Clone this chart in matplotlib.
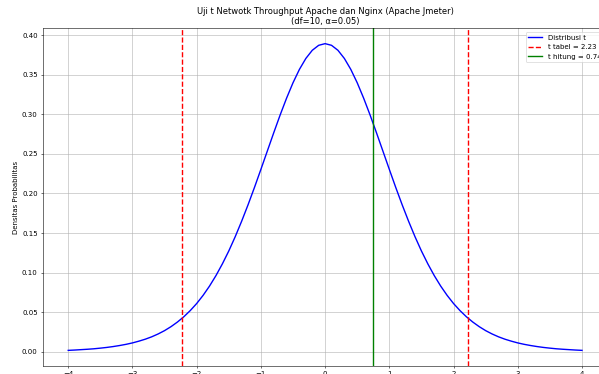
import numpy as np
import matplotlib
matplotlib.use('Agg')
import matplotlib.pyplot as plt

# t distribution curve (df=10), right half
x_half = [0.0, 0.1, 0.2, 0.3, 0.4, 0.5, 0.6, 0.7, 0.8, 0.9, 1.0,
          1.1, 1.2, 1.3, 1.4, 1.5, 1.6, 1.7, 1.8, 1.9, 2.0,
          2.1, 2.2, 2.3, 2.4, 2.5, 2.6, 2.7, 2.8, 2.9, 3.0,
          3.1, 3.2, 3.3, 3.4, 3.5, 3.6, 3.7, 3.8, 3.9, 4.0]
y_half = [0.3891, 0.3870, 0.3807, 0.3704, 0.3566, 0.3397, 0.3203, 0.2991,
          0.2766, 0.2535, 0.2304, 0.2076, 0.1857, 0.1649, 0.1454, 0.1274,
          0.1111, 0.0963, 0.0831, 0.0714, 0.0611, 0.0522, 0.0444, 0.0377,
          0.0319, 0.0269, 0.0227, 0.0191, 0.0161, 0.0136, 0.0114, 0.0096,
          0.0081, 0.0068, 0.0057, 0.0048, 0.0040, 0.0034, 0.0029, 0.0024,
          0.0020]

t_tabel = 2.228
t_hitung = 0.74
df = 10
alpha = 0.05

x = np.concatenate([-np.array(x_half[:0:-1]), np.array(x_half)])
y = np.concatenate([np.array(y_half[:0:-1]), np.array(y_half)])

fig = plt.figure(figsize=(11.98, 7.48), dpi=50)
ax = fig.add_axes([0.071, 0.0222, 0.9435, 0.9021])

ax.plot(x, y, color='blue', lw=2, label='Distribusi t')
ax.axvline(-t_tabel, color='red', ls='--', lw=2, label=f't tabel = {t_tabel:.2f}')
ax.axvline(t_tabel, color='red', ls='--', lw=2)
ax.axvline(t_hitung, color='green', lw=2, label=f't hitung = {t_hitung:.2f}')

ax.set_title(f'Uji t Netwotk Throughput Apache dan Nginx (Apache Jmeter)\n(df={df}, α={alpha})')
ax.set_ylabel('Densitas Probabilitas')
ax.legend(loc='upper right')
ax.grid(True)

fig.savefig('out.png', dpi=50)
